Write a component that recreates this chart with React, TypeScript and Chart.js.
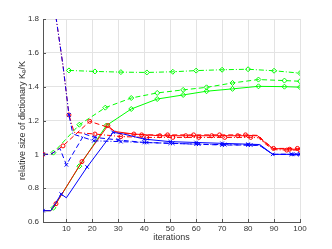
import React, { useEffect, useRef } from 'react';
import { Chart, registerables } from 'chart.js';
Chart.register(...registerables);

const xTickValues = [10, 20, 30, 40, 50, 60, 70, 80, 90, 100];
const yTickValues = [0.6, 0.8, 1.0, 1.2, 1.4, 1.6, 1.8];
const xTitle = 'iterations';
const yTitle = 'relative size of dictionary Kₑ/K';

// blue (x markers)
const blueSolidX = [1, 4, 8, 10, 18, 28, 32, 40, 50, 60, 70, 80, 84.5, 89.5, 97, 100];
const blueSolidY = [0.667, 0.667, 0.765, 0.743, 0.925, 1.13, 1.12, 1.09, 1.075, 1.07, 1.065, 1.06, 1.058, 1.0, 1.0, 1.0];
const blueSolidMarks = [1, 8, 18, 28, 40, 50, 60, 70, 80, 97, 100];

const blueDashX = [1, 4, 7.5, 10, 17, 21, 30, 40, 50, 60, 70, 80, 84.5, 89.5, 98.5, 100];
const blueDashY = [1.0, 1.0, 1.035, 0.938, 1.12, 1.1, 1.085, 1.07, 1.065, 1.06, 1.055, 1.055, 1.052, 1.0, 1.0, 1.0];
const blueDashMarks = [1, 10, 21, 30, 40, 50, 60, 70, 80, 89.5, 98.5];

const blueDotX = [1, 4, 6.1, 8.7, 11, 12.5, 20.6, 31, 41, 51, 61, 71, 81, 84.5, 89.5, 96.6, 100];
const blueDotY = [2.0, 2.0, 1.8, 1.525, 1.233, 1.12, 1.08, 1.075, 1.07, 1.065, 1.06, 1.057, 1.055, 1.053, 1.0, 1.0, 1.0];
const blueDotMarks = [11, 20.6, 31, 41, 51, 61, 71, 81, 96.6, 100];

// red (o markers)
const redSolidX = [1, 4, 6, 16, 26, 28.5, 36, 46, 56, 66, 76, 83.7, 85.7, 89.5, 96, 100];
const redSolidY = [0.667, 0.667, 0.708, 0.957, 1.17, 1.135, 1.12, 1.11, 1.11, 1.11, 1.11, 1.11, 1.08, 1.035, 1.03, 1.03];
const redSolidMarks = [6, 16, 26, 36, 46, 56, 66, 76, 96];

const redDashX = [1, 4, 8.7, 19, 26, 30, 39, 49, 59, 69, 79, 84, 86, 89.8, 99, 100];
const redDashY = [1.0, 1.0, 1.05, 1.195, 1.16, 1.125, 1.115, 1.115, 1.115, 1.115, 1.115, 1.112, 1.08, 1.035, 1.035, 1.035];
const redDashMarks = [1, 8.7, 19, 39, 49, 59, 69, 79, 89.8, 99];

const redDotX = [1, 4, 6.1, 8.7, 11, 13, 21, 31, 41, 51, 61, 71, 81, 84, 86, 89.5, 94.9, 100];
const redDotY = [2.0, 2.0, 1.8, 1.525, 1.233, 1.13, 1.12, 1.105, 1.1, 1.1, 1.1, 1.1, 1.1, 1.098, 1.07, 1.028, 1.025, 1.025];
const redDotMarks = [11, 21, 31, 41, 51, 61, 71, 81, 94.9, 100];

// green (diamond markers)
const greenSolidX = [1, 4, 5, 15, 25.4, 35, 45, 55, 64, 74, 84, 94, 100];
const greenSolidY = [0.667, 0.667, 0.684, 0.93, 1.17, 1.268, 1.327, 1.351, 1.373, 1.387, 1.402, 1.4, 1.397];
const greenSolidMarks = [5, 15, 25.4, 35, 45, 55, 64, 74, 84, 94, 100];

const greenDashX = [1, 4, 5, 15, 25, 35, 45, 55, 64, 74, 84, 94, 100];
const greenDashY = [1.0, 1.0, 1.01, 1.175, 1.276, 1.333, 1.363, 1.381, 1.396, 1.422, 1.442, 1.436, 1.432];
const greenDashMarks = [5, 15, 25, 35, 45, 55, 64, 74, 84, 94, 100];

const greenDotX = [11, 21, 31, 41, 51, 60, 70, 80, 90, 100];
const greenDotY = [1.496, 1.49, 1.486, 1.484, 1.488, 1.495, 1.5, 1.503, 1.494, 1.48];
const greenDotMarks = [11, 21, 31, 41, 51, 60, 70, 80, 90, 100];

const BLUE = '#0000ff';
const RED = '#ff0000';
const GREEN = '#00ff00';
const DASH = [5, 3];
const DASHDOT = [5, 2, 1, 2];

function series(xs: number[], ys: number[], marks: number[], color: string, dash: number[], style: string, r: number, order: number) {
  return {
    data: xs.map((x, i) => ({ x, y: ys[i] })),
    borderColor: color,
    backgroundColor: 'rgba(0,0,0,0)',
    borderWidth: 1,
    borderDash: dash,
    pointStyle: style,
    pointRadius: xs.map((x) => (marks.includes(x) ? r : 0)),
    pointBorderColor: color,
    pointBackgroundColor: 'rgba(0,0,0,0)',
    pointBorderWidth: 1,
    tension: 0,
    fill: false,
    order,
  };
}

const inwardTicks = {
  id: 'inwardTicks',
  afterDatasetsDraw(chart: any) {
    const { ctx, chartArea, scales } = chart;
    ctx.save();
    ctx.strokeStyle = '#555';
    ctx.lineWidth = 1;
    ctx.beginPath();
    for (const v of yTickValues) {
      const y = Math.round(scales.y.getPixelForValue(v)) + 0.5;
      ctx.moveTo(chartArea.left, y);
      ctx.lineTo(chartArea.left + 3, y);
    }
    for (const v of xTickValues) {
      const x = Math.round(scales.x.getPixelForValue(v)) + 0.5;
      ctx.moveTo(x, chartArea.bottom);
      ctx.lineTo(x, chartArea.bottom - 3);
    }
    ctx.stroke();
    ctx.restore();
  },
};

export default function App() {
  const ref = useRef<HTMLCanvasElement>(null);
  useEffect(() => {
    document.body.style.margin = '0';
    const tickFont = { family: "'Liberation Sans', Arial, sans-serif", size: 8 };
    const titleFont = { family: "'Liberation Sans', Arial, sans-serif", size: 9 };
    const chart = new Chart(ref.current as HTMLCanvasElement, {
      type: 'line',
      data: {
        datasets: [
          series(greenDotX, greenDotY, greenDotMarks, GREEN, DASHDOT, 'rectRot', 2.5, 9),
          series(greenDashX, greenDashY, greenDashMarks, GREEN, DASH, 'rectRot', 2.5, 8),
          series(greenSolidX, greenSolidY, greenSolidMarks, GREEN, [], 'rectRot', 2.5, 7),
          series(redDotX, redDotY, redDotMarks, RED, DASHDOT, 'circle', 2, 6),
          series(redDashX, redDashY, redDashMarks, RED, DASH, 'circle', 2, 5),
          series(redSolidX, redSolidY, redSolidMarks, RED, [], 'circle', 2, 4),
          series(blueDotX, blueDotY, blueDotMarks, BLUE, DASHDOT, 'crossRot', 2.5, 3),
          series(blueDashX, blueDashY, blueDashMarks, BLUE, DASH, 'crossRot', 2.5, 2),
          series(blueSolidX, blueSolidY, blueSolidMarks, BLUE, [], 'crossRot', 2.5, 1),
        ] as any,
      },
      options: {
        animation: false,
        responsive: false,
        layout: { padding: { left: 0, right: 32, top: 19, bottom: 0 } },
        plugins: { legend: { display: false }, tooltip: { enabled: false } },
        scales: {
          x: {
            type: 'linear',
            min: 1,
            max: 100,
            afterBuildTicks: (s: any) => { s.ticks = xTickValues.map((v) => ({ value: v })); },
            afterFit: (s: any) => { s.height = 27; },
            grid: { color: '#e3e3e3', drawTicks: false },
            border: { display: true, color: '#555', width: 1 },
            ticks: { font: tickFont, color: '#333', padding: 2, maxRotation: 0, callback: (v: any) => String(v) },
            title: { display: true, text: xTitle, font: titleFont, color: '#333', padding: { top: 0, bottom: 6 } },
          },
          y: {
            type: 'linear',
            min: 0.6,
            max: 1.8,
            afterBuildTicks: (s: any) => { s.ticks = yTickValues.map((v) => ({ value: v })); },
            afterFit: (s: any) => { s.width = 43; },
            grid: { color: '#e3e3e3', drawTicks: false },
            border: { display: true, color: '#555', width: 1 },
            ticks: { font: tickFont, color: '#333', padding: 4, callback: (v: any) => (Math.abs(v - 1) < 1e-9 ? '1' : Number(v).toFixed(1)) },
            title: { display: true, text: yTitle, font: titleFont, color: '#333', padding: { top: 17, bottom: 0 } },
          },
        },
      },
      plugins: [inwardTicks],
    });
    return () => chart.destroy();
  }, []);
  return (
    <div style={{ width: 332, height: 249 }}>
      <canvas ref={ref} width={332} height={249} />
    </div>
  );
}
